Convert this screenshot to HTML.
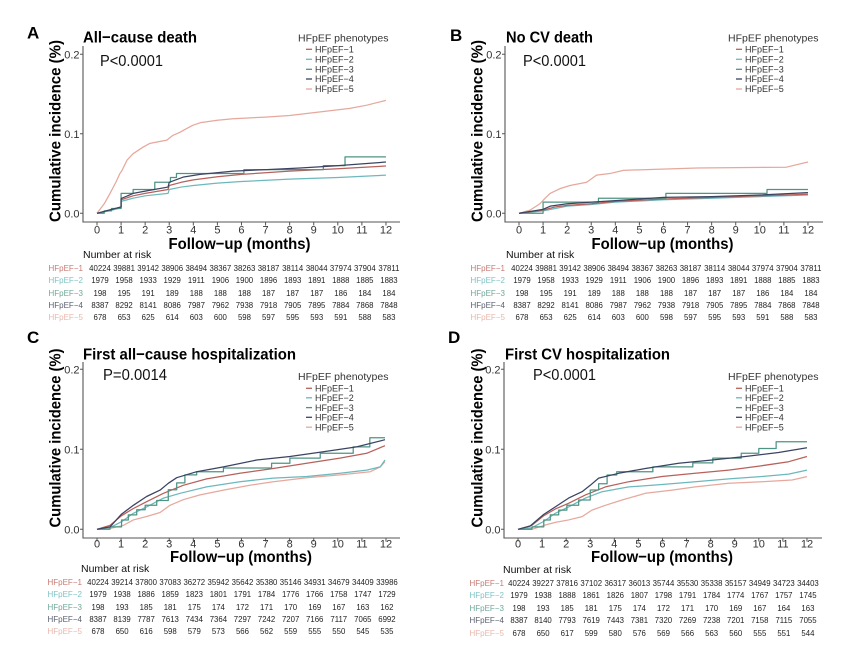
<!DOCTYPE html>
<html><head><meta charset="utf-8">
<style>
html,body{margin:0;padding:0;background:#fff;}
body{width:865px;height:654px;position:relative;overflow:hidden;font-family:"Liberation Sans",Arial,sans-serif;}
svg{position:absolute;left:0;top:0;}
.tbl{position:absolute;font-size:7.8px;color:#222;}
.r{position:relative;display:flex;height:var(--lh);line-height:var(--lh);white-space:nowrap;}
.r span{flex:none;width:24.08px;text-align:center;}
.r span.lb{position:absolute;right:calc(100% + var(--g));width:auto;text-align:right;font-size:8px;}
.k1{color:#c77a72}.k2{color:#7fc3c6}.k3{color:#6fa899}.k4{color:#5c6070}.k5{color:#e9b8ae}
.nar{position:absolute;font-size:10.5px;color:#111;}
</style></head><body>
<svg width="865" height="654" viewBox="0 0 865 654" font-family="'Liberation Sans', Arial, sans-serif">
<!-- ================= PANEL A ================= -->
<text x="27" y="38.5" font-size="17" font-weight="bold">A</text>
<text x="83" y="42.5" font-size="16" font-weight="bold" textLength="114" lengthAdjust="spacingAndGlyphs">All−cause death</text>
<text x="100" y="66" font-size="16" fill="#111" textLength="63" lengthAdjust="spacingAndGlyphs">P&lt;0.0001</text>
<text transform="translate(60.5,131) rotate(-90)" text-anchor="middle" font-size="16" font-weight="bold" textLength="182" lengthAdjust="spacingAndGlyphs">Cumulative incidence (%)</text>
<path d="M83 46V222H400" stroke="#555" stroke-width="1.1" fill="none"/>
<path d="M80 54.3H83M80 133.8H83M80 213.3H83" stroke="#555" stroke-width="1"/>
<path d="M97 222v3.5M121.08 222v3.5M145.16 222v3.5M169.24 222v3.5M193.32 222v3.5M217.4 222v3.5M241.48 222v3.5M265.56 222v3.5M289.64 222v3.5M313.72 222v3.5M337.8 222v3.5M361.88 222v3.5M385.96 222v3.5" stroke="#555" stroke-width="1"/>
<g font-size="11" fill="#333" text-anchor="end">
<text x="79.5" y="58.3">0.2</text><text x="79.5" y="137.8">0.1</text><text x="79.5" y="217.3">0.0</text>
</g>
<g font-size="11" fill="#333" text-anchor="middle">
<text x="97" y="233.5">0</text><text x="121.08" y="233.5">1</text><text x="145.16" y="233.5">2</text><text x="169.24" y="233.5">3</text><text x="193.32" y="233.5">4</text><text x="217.4" y="233.5">5</text><text x="241.48" y="233.5">6</text><text x="265.56" y="233.5">7</text><text x="289.64" y="233.5">8</text><text x="313.72" y="233.5">9</text><text x="337.8" y="233.5">10</text><text x="361.88" y="233.5">11</text><text x="385.96" y="233.5">12</text>
</g>
<text x="239.5" y="249" font-size="16" font-weight="bold" text-anchor="middle" textLength="142" lengthAdjust="spacingAndGlyphs">Follow−up (months)</text>
<text x="298" y="41.5" font-size="10.5" fill="#333">HFpEF phenotypes</text>
<g stroke-width="1.3">
<path d="M306 49.3h6" stroke="#b8605a"/><path d="M306 59.3h6" stroke="#6cb8bc"/><path d="M306 69.3h6" stroke="#4e9484"/><path d="M306 79h6" stroke="#3a4462"/><path d="M306 89h6" stroke="#e6a89c"/>
</g>
<g font-size="9" fill="#333">
<text x="315" y="52.5">HFpEF−1</text><text x="315" y="62.5">HFpEF−2</text><text x="315" y="72.5">HFpEF−3</text><text x="315" y="82.2">HFpEF−4</text><text x="315" y="92.2">HFpEF−5</text>
</g>
<g transform="translate(97,213.3) scale(24.08,-795)" fill="none" stroke-width="1.25" stroke-linejoin="round">
<polyline vector-effect="non-scaling-stroke" stroke="#e6a89c" points="0,0 0.3,0.012 0.54,0.025 0.8,0.04 0.95,0.05 1.04,0.054 1.25,0.067 1.5,0.075 1.9,0.083 2.2,0.088 2.9,0.092 3.15,0.098 3.45,0.102 3.75,0.107 4.0,0.111 4.3,0.114 5,0.117 5.65,0.119 7,0.121 8,0.123 9.1,0.127 10.5,0.132 11.2,0.136 12,0.142"/>
<polyline vector-effect="non-scaling-stroke" stroke="#6cb8bc" points="0,0 0.5,0.003 1,0.007 1,0.015 1.5,0.019 2,0.022 2.95,0.025 3,0.03 3.5,0.033 4,0.035 5,0.038 6,0.04 8,0.043 10,0.045 12,0.048"/>
<polyline vector-effect="non-scaling-stroke" stroke="#b8605a" points="0,0 0.5,0.004 1,0.008 1,0.017 1.5,0.022 2,0.025 2.95,0.03 3,0.035 3.5,0.039 4,0.042 5,0.046 6,0.049 8,0.053 10,0.056 12,0.0595"/>
<polyline vector-effect="non-scaling-stroke" stroke="#4e9484" points="0,0 0.3,0 0.3,0.003 0.6,0.003 0.6,0.006 1,0.006 1,0.025 1.5,0.025 1.5,0.03 2.4,0.03 2.4,0.039 3.05,0.039 3.05,0.045 3.3,0.045 3.3,0.05 6.1,0.05 6.1,0.055 9.4,0.055 9.4,0.06 10.3,0.06 10.3,0.071 12,0.071"/>
<polyline vector-effect="non-scaling-stroke" stroke="#3a4462" points="0,0 0.5,0.004 1,0.008 1,0.0185 1.5,0.025 2.2,0.029 2.95,0.033 3,0.039 3.6,0.0457 4.28,0.049 5.66,0.053 7.05,0.055 8.43,0.057 9.81,0.0595 12,0.0645"/>
</g>

<!-- ================= PANEL B ================= -->
<text x="450" y="41" font-size="17" font-weight="bold">B</text>
<text x="506" y="42.5" font-size="16" font-weight="bold" textLength="87" lengthAdjust="spacingAndGlyphs">No CV death</text>
<text x="523" y="66" font-size="16" fill="#111" textLength="63" lengthAdjust="spacingAndGlyphs">P&lt;0.0001</text>
<text transform="translate(482.5,131) rotate(-90)" text-anchor="middle" font-size="16" font-weight="bold" textLength="182" lengthAdjust="spacingAndGlyphs">Cumulative incidence (%)</text>
<path d="M505 46V222H823" stroke="#555" stroke-width="1.1" fill="none"/>
<path d="M502 54.3H505M502 133.8H505M502 213.3H505" stroke="#555" stroke-width="1"/>
<path d="M519 222v3.5M543.08 222v3.5M567.16 222v3.5M591.24 222v3.5M615.32 222v3.5M639.4 222v3.5M663.48 222v3.5M687.56 222v3.5M711.64 222v3.5M735.72 222v3.5M759.8 222v3.5M783.88 222v3.5M807.96 222v3.5" stroke="#555" stroke-width="1"/>
<g font-size="11" fill="#333" text-anchor="end">
<text x="501.5" y="58.3">0.2</text><text x="501.5" y="137.8">0.1</text><text x="501.5" y="217.3">0.0</text>
</g>
<g font-size="11" fill="#333" text-anchor="middle">
<text x="519" y="233.5">0</text><text x="543.08" y="233.5">1</text><text x="567.16" y="233.5">2</text><text x="591.24" y="233.5">3</text><text x="615.32" y="233.5">4</text><text x="639.4" y="233.5">5</text><text x="663.48" y="233.5">6</text><text x="687.56" y="233.5">7</text><text x="711.64" y="233.5">8</text><text x="735.72" y="233.5">9</text><text x="759.8" y="233.5">10</text><text x="783.88" y="233.5">11</text><text x="807.96" y="233.5">12</text>
</g>
<text x="662.5" y="249" font-size="16" font-weight="bold" text-anchor="middle" textLength="142" lengthAdjust="spacingAndGlyphs">Follow−up (months)</text>
<text x="728" y="41.5" font-size="10.5" fill="#333">HFpEF phenotypes</text>
<g stroke-width="1.3">
<path d="M736 49.3h6" stroke="#b8605a"/><path d="M736 59.3h6" stroke="#6cb8bc"/><path d="M736 69.3h6" stroke="#4e9484"/><path d="M736 79h6" stroke="#3a4462"/><path d="M736 89h6" stroke="#e6a89c"/>
</g>
<g font-size="9" fill="#333">
<text x="745" y="52.5">HFpEF−1</text><text x="745" y="62.5">HFpEF−2</text><text x="745" y="72.5">HFpEF−3</text><text x="745" y="82.2">HFpEF−4</text><text x="745" y="92.2">HFpEF−5</text>
</g>
<g transform="translate(519,213.3) scale(24.08,-795)" fill="none" stroke-width="1.25" stroke-linejoin="round">
<polyline vector-effect="non-scaling-stroke" stroke="#e6a89c" points="0,0 0.46,0.004 0.87,0.012 1.07,0.0185 1.29,0.025 1.7,0.031 2.12,0.035 2.81,0.039 3.22,0.048 3.77,0.05 4.33,0.054 5.3,0.055 7.4,0.057 11.1,0.058 12,0.0645"/>
<polyline vector-effect="non-scaling-stroke" stroke="#6cb8bc" points="0,0 1,0.003 2,0.009 3,0.011 4,0.014 6,0.017 8,0.019 10,0.021 12,0.023"/>
<polyline vector-effect="non-scaling-stroke" stroke="#b8605a" points="0,0 1,0.004 1.5,0.008 2,0.01 3,0.012 4,0.015 6,0.018 8,0.02 10,0.022 12,0.024"/>
<polyline vector-effect="non-scaling-stroke" stroke="#4e9484" points="0,0 1,0 1,0.014 3.3,0.014 3.3,0.019 6.1,0.019 6.1,0.025 10.3,0.025 10.3,0.03 12,0.03"/>
<polyline vector-effect="non-scaling-stroke" stroke="#3a4462" points="0,0 1,0.005 1.3,0.009 2,0.012 3,0.014 4,0.016 5,0.018 6,0.02 8,0.021 10,0.023 12,0.026"/>
</g>

<!-- ================= PANEL C ================= -->
<text x="27" y="343" font-size="17" font-weight="bold">C</text>
<text x="83" y="359.5" font-size="16" font-weight="bold" textLength="213" lengthAdjust="spacingAndGlyphs">First all−cause hospitalization</text>
<text x="103" y="380" font-size="16" fill="#111" textLength="64" lengthAdjust="spacingAndGlyphs">P=0.0014</text>
<text transform="translate(60.5,438) rotate(-90)" text-anchor="middle" font-size="16" font-weight="bold" textLength="179" lengthAdjust="spacingAndGlyphs">Cumulative incidence (%)</text>
<path d="M83 362V538H400" stroke="#555" stroke-width="1.1" fill="none"/>
<path d="M80 369.3H83M80 449.3H83M80 529.3H83" stroke="#555" stroke-width="1"/>
<path d="M97 538v3.5M121.08 538v3.5M145.16 538v3.5M169.24 538v3.5M193.32 538v3.5M217.4 538v3.5M241.48 538v3.5M265.56 538v3.5M289.64 538v3.5M313.72 538v3.5M337.8 538v3.5M361.88 538v3.5M385.96 538v3.5" stroke="#555" stroke-width="1"/>
<g font-size="11" fill="#333" text-anchor="end">
<text x="79.5" y="373.3">0.2</text><text x="79.5" y="453.3">0.1</text><text x="79.5" y="533.3">0.0</text>
</g>
<g font-size="11" fill="#333" text-anchor="middle">
<text x="97" y="547.5">0</text><text x="121.08" y="547.5">1</text><text x="145.16" y="547.5">2</text><text x="169.24" y="547.5">3</text><text x="193.32" y="547.5">4</text><text x="217.4" y="547.5">5</text><text x="241.48" y="547.5">6</text><text x="265.56" y="547.5">7</text><text x="289.64" y="547.5">8</text><text x="313.72" y="547.5">9</text><text x="337.8" y="547.5">10</text><text x="361.88" y="547.5">11</text><text x="385.96" y="547.5">12</text>
</g>
<text x="241" y="562" font-size="16" font-weight="bold" text-anchor="middle" textLength="142" lengthAdjust="spacingAndGlyphs">Follow−up (months)</text>
<text x="298" y="380" font-size="10.5" fill="#333">HFpEF phenotypes</text>
<g stroke-width="1.3">
<path d="M306 388.3h6" stroke="#b8605a"/><path d="M306 397.8h6" stroke="#6cb8bc"/><path d="M306 407.6h6" stroke="#4e9484"/><path d="M306 417.3h6" stroke="#3a4462"/><path d="M306 427.2h6" stroke="#e6a89c"/>
</g>
<g font-size="9" fill="#333">
<text x="315" y="391.5">HFpEF−1</text><text x="315" y="401">HFpEF−2</text><text x="315" y="410.8">HFpEF−3</text><text x="315" y="420.5">HFpEF−4</text><text x="315" y="430.4">HFpEF−5</text>
</g>
<g transform="translate(97,529.3) scale(24.08,-800)" fill="none" stroke-width="1.25" stroke-linejoin="round">
<polyline vector-effect="non-scaling-stroke" stroke="#e6a89c" points="0,0 0.54,0.001 1.1,0.005 1.51,0.0117 2.06,0.016 2.62,0.021 3.03,0.030 3.58,0.037 4.28,0.043 5.25,0.049 6.35,0.055 7.32,0.0595 8.71,0.0645 10.09,0.068 11.35,0.072 11.76,0.078 11.96,0.0845"/>
<polyline vector-effect="non-scaling-stroke" stroke="#6cb8bc" points="0,0 0.54,0.002 1.02,0.0095 1.51,0.02 2.06,0.028 2.76,0.039 3.45,0.045 4.55,0.053 5.93,0.0595 7.32,0.064 8.71,0.066 10.09,0.07 11.2,0.074 11.76,0.078 11.96,0.0866"/>
<polyline vector-effect="non-scaling-stroke" stroke="#b8605a" points="0,0 0.54,0.005 1.02,0.017 1.51,0.026 2.06,0.0345 2.76,0.045 3.58,0.055 4.55,0.063 5.93,0.07 7.32,0.076 8.71,0.0825 10.09,0.089 11.2,0.095 11.96,0.1045"/>
<polyline vector-effect="non-scaling-stroke" stroke="#4e9484" points="0,0 0.54,0 0.54,0.003 1.02,0.003 1.02,0.0117 1.3,0.0117 1.3,0.018 1.65,0.018 1.65,0.0245 2.0,0.0245 2.0,0.03 2.48,0.03 2.48,0.036 2.96,0.036 2.96,0.0495 3.31,0.0495 3.31,0.058 3.65,0.058 3.65,0.068 4.14,0.068 4.14,0.072 5.25,0.072 5.25,0.0766 7.25,0.0766 7.25,0.0825 8.01,0.0825 8.01,0.089 9.27,0.089 9.27,0.095 10.64,0.095 10.64,0.103 11.33,0.103 11.33,0.1145 11.96,0.1145"/>
<polyline vector-effect="non-scaling-stroke" stroke="#3a4462" points="0,0 0.54,0.003 1.02,0.019 1.51,0.030 2.06,0.041 2.62,0.049 2.96,0.0575 3.31,0.0645 4.14,0.072 5.25,0.078 6.63,0.0866 8.01,0.091 9.4,0.097 10.78,0.103 11.96,0.112"/>
</g>

<!-- ================= PANEL D ================= -->
<text x="448" y="343" font-size="17" font-weight="bold">D</text>
<text x="505" y="359.5" font-size="16" font-weight="bold" textLength="165" lengthAdjust="spacingAndGlyphs">First CV hospitalization</text>
<text x="533" y="380" font-size="16" fill="#111" textLength="63" lengthAdjust="spacingAndGlyphs">P&lt;0.0001</text>
<text transform="translate(482.5,438) rotate(-90)" text-anchor="middle" font-size="16" font-weight="bold" textLength="179" lengthAdjust="spacingAndGlyphs">Cumulative incidence (%)</text>
<path d="M504 362V538H822" stroke="#555" stroke-width="1.1" fill="none"/>
<path d="M501 369.3H504M501 449.3H504M501 529.3H504" stroke="#555" stroke-width="1"/>
<path d="M518 538v3.5M542.08 538v3.5M566.16 538v3.5M590.24 538v3.5M614.32 538v3.5M638.4 538v3.5M662.48 538v3.5M686.56 538v3.5M710.64 538v3.5M734.72 538v3.5M758.8 538v3.5M782.88 538v3.5M806.96 538v3.5" stroke="#555" stroke-width="1"/>
<g font-size="11" fill="#333" text-anchor="end">
<text x="500.5" y="373.3">0.2</text><text x="500.5" y="453.3">0.1</text><text x="500.5" y="533.3">0.0</text>
</g>
<g font-size="11" fill="#333" text-anchor="middle">
<text x="518" y="547.5">0</text><text x="542.08" y="547.5">1</text><text x="566.16" y="547.5">2</text><text x="590.24" y="547.5">3</text><text x="614.32" y="547.5">4</text><text x="638.4" y="547.5">5</text><text x="662.48" y="547.5">6</text><text x="686.56" y="547.5">7</text><text x="710.64" y="547.5">8</text><text x="734.72" y="547.5">9</text><text x="758.8" y="547.5">10</text><text x="782.88" y="547.5">11</text><text x="806.96" y="547.5">12</text>
</g>
<text x="662" y="562" font-size="16" font-weight="bold" text-anchor="middle" textLength="142" lengthAdjust="spacingAndGlyphs">Follow−up (months)</text>
<text x="728" y="380" font-size="10.5" fill="#333">HFpEF phenotypes</text>
<g stroke-width="1.3">
<path d="M736 388.3h6" stroke="#b8605a"/><path d="M736 397.8h6" stroke="#6cb8bc"/><path d="M736 407.6h6" stroke="#4e9484"/><path d="M736 417.3h6" stroke="#3a4462"/><path d="M736 427.2h6" stroke="#e6a89c"/>
</g>
<g font-size="9" fill="#333">
<text x="745" y="391.5">HFpEF−1</text><text x="745" y="401">HFpEF−2</text><text x="745" y="410.8">HFpEF−3</text><text x="745" y="420.5">HFpEF−4</text><text x="745" y="430.4">HFpEF−5</text>
</g>
<g transform="translate(518,529.3) scale(24.08,-800)" fill="none" stroke-width="1.25" stroke-linejoin="round">
<polyline vector-effect="non-scaling-stroke" stroke="#e6a89c" points="0,0 0.58,0 1.13,0.0054 1.55,0.0087 2.1,0.0117 2.66,0.0158 3.07,0.024 3.63,0.03 4.32,0.0366 5.29,0.045 6.4,0.049 7.36,0.053 8.75,0.0575 10.13,0.0595 11.38,0.0616 12,0.0658"/>
<polyline vector-effect="non-scaling-stroke" stroke="#6cb8bc" points="0,0 0.58,0.002 1.07,0.0099 1.55,0.02 2.1,0.028 2.8,0.039 3.49,0.047 4.6,0.053 5.98,0.056 7.36,0.0595 8.75,0.063 10.13,0.066 11.24,0.069 12,0.074"/>
<polyline vector-effect="non-scaling-stroke" stroke="#b8605a" points="0,0 0.58,0.005 1.07,0.017 1.55,0.0254 2.1,0.0325 2.8,0.043 3.63,0.053 4.6,0.0595 5.98,0.066 7.36,0.07 8.75,0.074 10.13,0.0795 11.24,0.0845 12,0.091"/>
<polyline vector-effect="non-scaling-stroke" stroke="#4e9484" points="0,0 0.58,0 0.58,0.003 1.07,0.003 1.07,0.0117 1.34,0.0117 1.34,0.018 1.69,0.018 1.69,0.024 2.03,0.024 2.03,0.03 2.52,0.03 2.52,0.0366 3.0,0.0366 3.0,0.0491 3.35,0.0491 3.35,0.057 3.7,0.057 3.7,0.0679 4.1,0.0679 4.1,0.072 5.6,0.072 5.6,0.078 7.26,0.078 7.26,0.083 8.09,0.083 8.09,0.089 9.27,0.089 9.27,0.095 10.0,0.095 10.0,0.101 10.72,0.101 10.72,0.1095 12,0.1095"/>
<polyline vector-effect="non-scaling-stroke" stroke="#3a4462" points="0,0 0.5,0.004 1.07,0.0187 1.55,0.028 2.1,0.039 2.66,0.047 3.0,0.055 3.35,0.064 4.18,0.07 5.29,0.076 6.67,0.0825 8.06,0.0866 9.44,0.091 10.82,0.096 12,0.102"/>
</g>
</svg>

<!-- Number at risk tables -->
<div class="nar" style="left:83px;top:249px;">Number at risk</div>
<div class="tbl" style="left:87.96px;top:262.8px;--lh:12.4px;--g:5px;">
<div class="r"><span class="lb k1">HFpEF−1</span><span>40224</span><span>39881</span><span>39142</span><span>38906</span><span>38494</span><span>38367</span><span>38263</span><span>38187</span><span>38114</span><span>38044</span><span>37974</span><span>37904</span><span>37811</span></div>
<div class="r"><span class="lb k2">HFpEF−2</span><span>1979</span><span>1958</span><span>1933</span><span>1929</span><span>1911</span><span>1906</span><span>1900</span><span>1896</span><span>1893</span><span>1891</span><span>1888</span><span>1885</span><span>1883</span></div>
<div class="r"><span class="lb k3">HFpEF−3</span><span>198</span><span>195</span><span>191</span><span>189</span><span>188</span><span>188</span><span>188</span><span>187</span><span>187</span><span>187</span><span>186</span><span>184</span><span>184</span></div>
<div class="r"><span class="lb k4">HFpEF−4</span><span>8387</span><span>8292</span><span>8141</span><span>8086</span><span>7987</span><span>7962</span><span>7938</span><span>7918</span><span>7905</span><span>7895</span><span>7884</span><span>7868</span><span>7848</span></div>
<div class="r"><span class="lb k5">HFpEF−5</span><span>678</span><span>653</span><span>625</span><span>614</span><span>603</span><span>600</span><span>598</span><span>597</span><span>595</span><span>593</span><span>591</span><span>588</span><span>583</span></div>
</div>

<div class="nar" style="left:506px;top:249px;">Number at risk</div>
<div class="tbl" style="left:509.96px;top:262.8px;--lh:12.4px;--g:5px;">
<div class="r"><span class="lb k1">HFpEF−1</span><span>40224</span><span>39881</span><span>39142</span><span>38906</span><span>38494</span><span>38367</span><span>38263</span><span>38187</span><span>38114</span><span>38044</span><span>37974</span><span>37904</span><span>37811</span></div>
<div class="r"><span class="lb k2">HFpEF−2</span><span>1979</span><span>1958</span><span>1933</span><span>1929</span><span>1911</span><span>1906</span><span>1900</span><span>1896</span><span>1893</span><span>1891</span><span>1888</span><span>1885</span><span>1883</span></div>
<div class="r"><span class="lb k3">HFpEF−3</span><span>198</span><span>195</span><span>191</span><span>189</span><span>188</span><span>188</span><span>188</span><span>187</span><span>187</span><span>187</span><span>186</span><span>184</span><span>184</span></div>
<div class="r"><span class="lb k4">HFpEF−4</span><span>8387</span><span>8292</span><span>8141</span><span>8086</span><span>7987</span><span>7962</span><span>7938</span><span>7918</span><span>7905</span><span>7895</span><span>7884</span><span>7868</span><span>7848</span></div>
<div class="r"><span class="lb k5">HFpEF−5</span><span>678</span><span>653</span><span>625</span><span>614</span><span>603</span><span>600</span><span>598</span><span>597</span><span>595</span><span>593</span><span>591</span><span>588</span><span>583</span></div>
</div>

<div class="nar" style="left:81px;top:563px;">Number at risk</div>
<div class="tbl" style="left:85.96px;top:577.2px;--lh:12.25px;--g:4px;">
<div class="r"><span class="lb k1">HFpEF−1</span><span>40224</span><span>39214</span><span>37800</span><span>37083</span><span>36272</span><span>35942</span><span>35642</span><span>35380</span><span>35146</span><span>34931</span><span>34679</span><span>34409</span><span>33986</span></div>
<div class="r"><span class="lb k2">HFpEF−2</span><span>1979</span><span>1938</span><span>1886</span><span>1859</span><span>1823</span><span>1801</span><span>1791</span><span>1784</span><span>1776</span><span>1766</span><span>1758</span><span>1747</span><span>1729</span></div>
<div class="r"><span class="lb k3">HFpEF−3</span><span>198</span><span>193</span><span>185</span><span>181</span><span>175</span><span>174</span><span>172</span><span>171</span><span>170</span><span>169</span><span>167</span><span>163</span><span>162</span></div>
<div class="r"><span class="lb k4">HFpEF−4</span><span>8387</span><span>8139</span><span>7787</span><span>7613</span><span>7434</span><span>7364</span><span>7297</span><span>7242</span><span>7207</span><span>7166</span><span>7117</span><span>7065</span><span>6992</span></div>
<div class="r"><span class="lb k5">HFpEF−5</span><span>678</span><span>650</span><span>616</span><span>598</span><span>579</span><span>573</span><span>566</span><span>562</span><span>559</span><span>555</span><span>550</span><span>545</span><span>535</span></div>
</div>

<div class="nar" style="left:503px;top:564px;">Number at risk</div>
<div class="tbl" style="left:506.96px;top:577.75px;--lh:12.5px;--g:3px;">
<div class="r"><span class="lb k1">HFpEF−1</span><span>40224</span><span>39227</span><span>37816</span><span>37102</span><span>36317</span><span>36013</span><span>35744</span><span>35530</span><span>35338</span><span>35157</span><span>34949</span><span>34723</span><span>34403</span></div>
<div class="r"><span class="lb k2">HFpEF−2</span><span>1979</span><span>1938</span><span>1888</span><span>1861</span><span>1826</span><span>1807</span><span>1798</span><span>1791</span><span>1784</span><span>1774</span><span>1767</span><span>1757</span><span>1745</span></div>
<div class="r"><span class="lb k3">HFpEF−3</span><span>198</span><span>193</span><span>185</span><span>181</span><span>175</span><span>174</span><span>172</span><span>171</span><span>170</span><span>169</span><span>167</span><span>164</span><span>163</span></div>
<div class="r"><span class="lb k4">HFpEF−4</span><span>8387</span><span>8140</span><span>7793</span><span>7619</span><span>7443</span><span>7381</span><span>7320</span><span>7269</span><span>7238</span><span>7201</span><span>7158</span><span>7115</span><span>7055</span></div>
<div class="r"><span class="lb k5">HFpEF−5</span><span>678</span><span>650</span><span>617</span><span>599</span><span>580</span><span>576</span><span>569</span><span>566</span><span>563</span><span>560</span><span>555</span><span>551</span><span>544</span></div>
</div>
</body></html>
